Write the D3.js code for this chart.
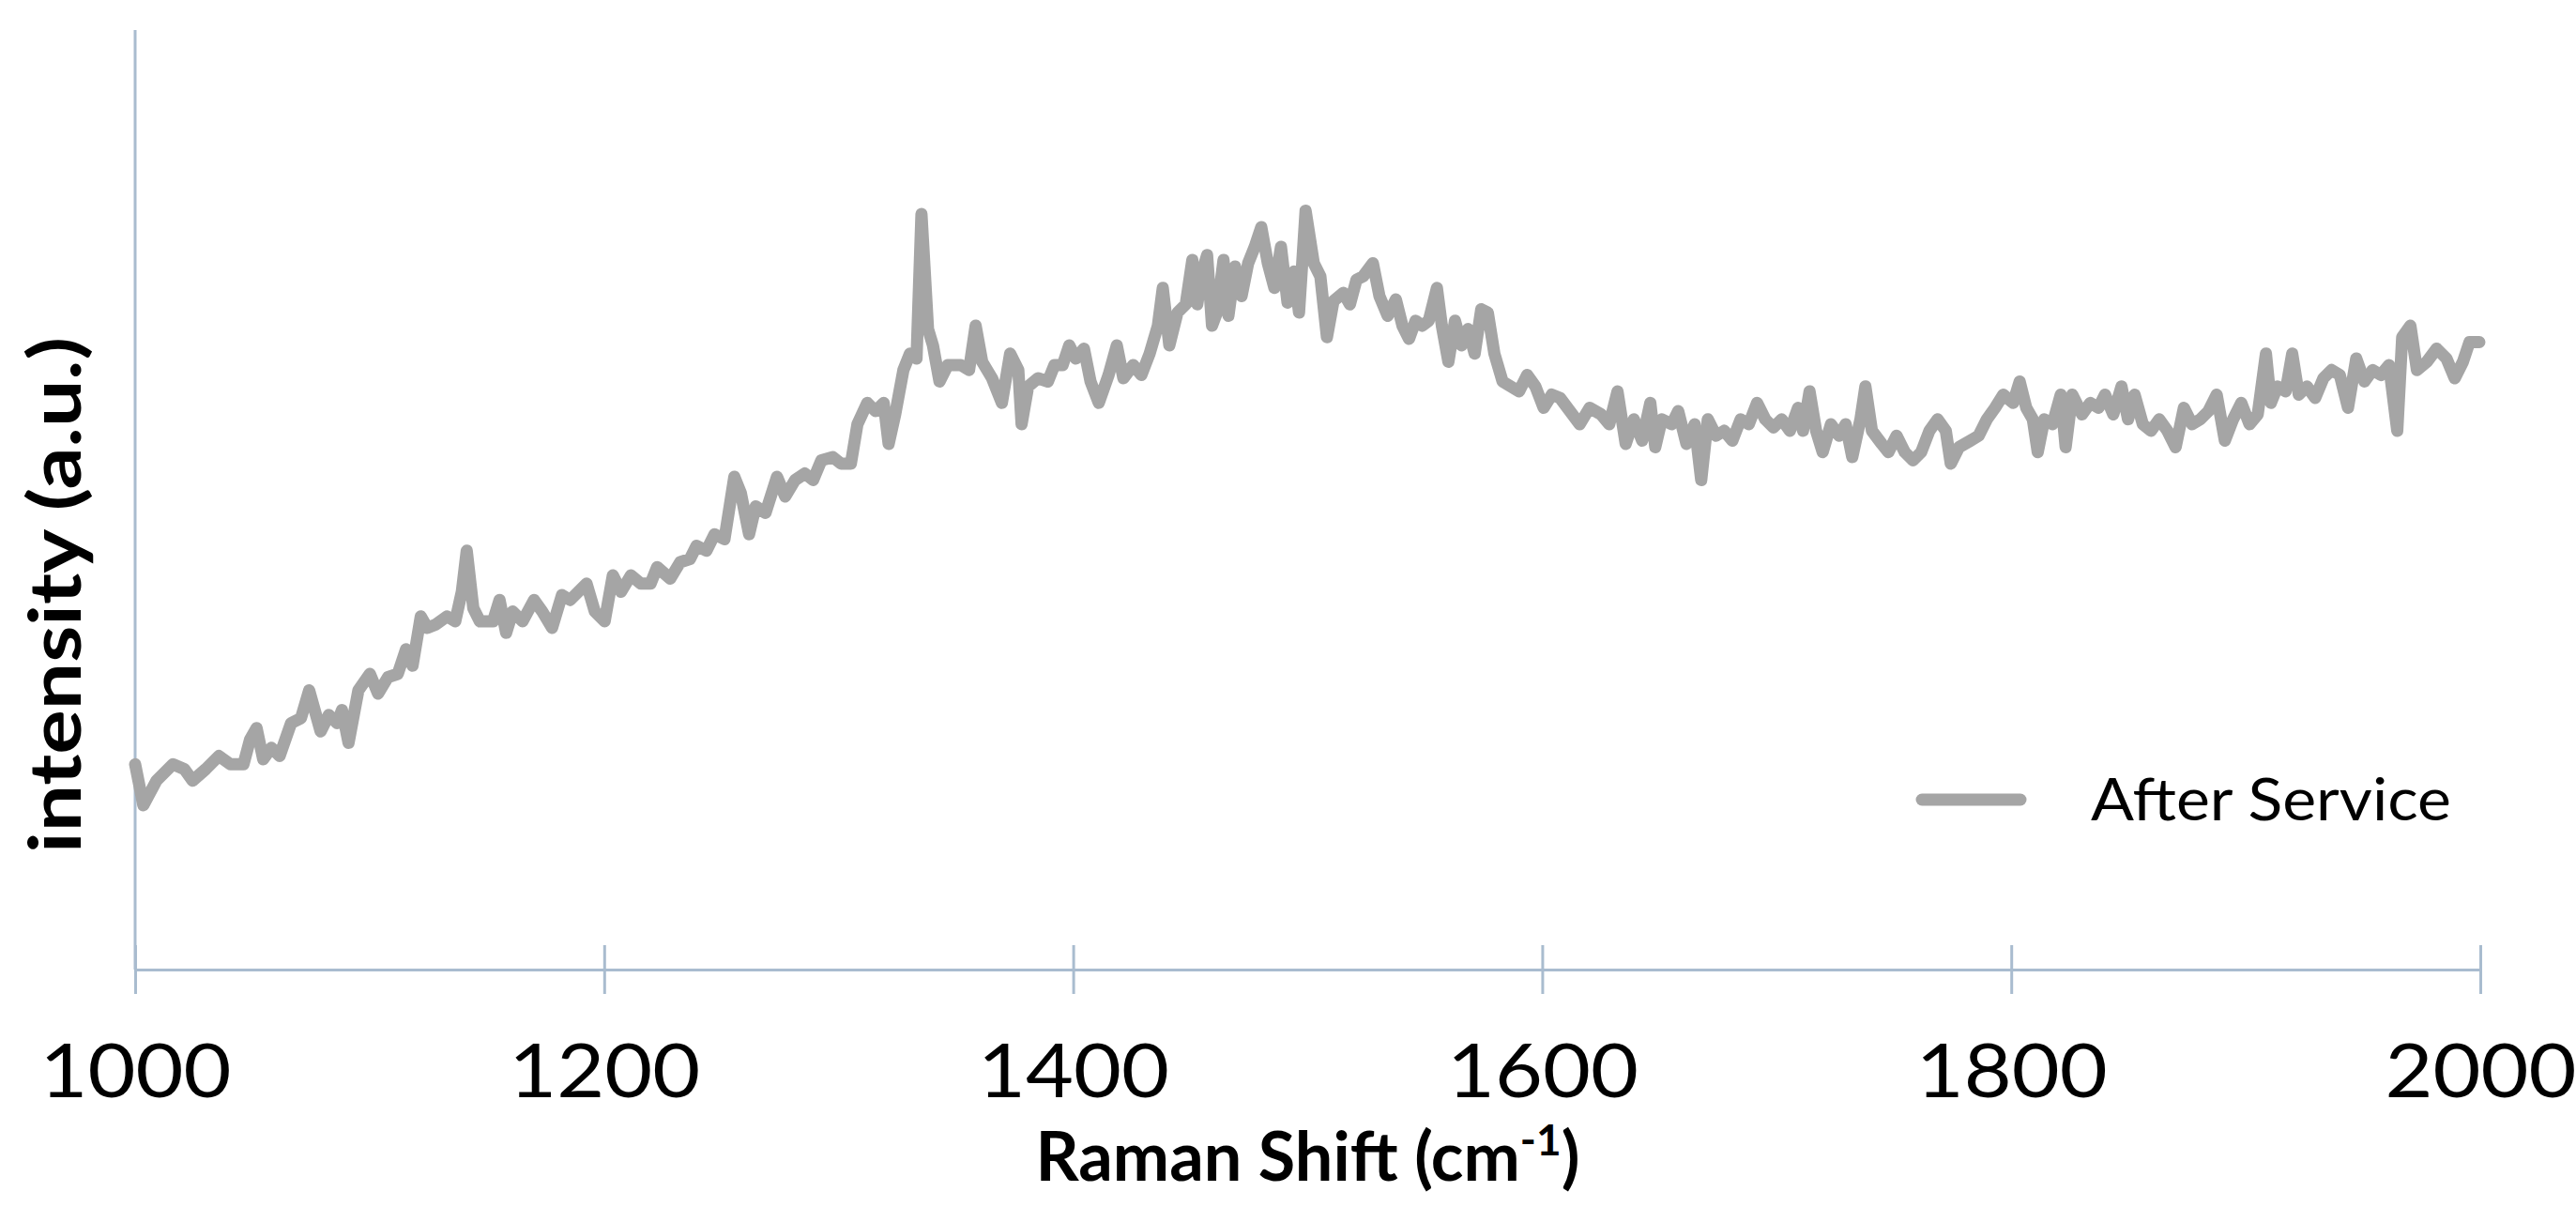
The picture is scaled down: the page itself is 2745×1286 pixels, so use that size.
<!DOCTYPE html>
<html>
<head>
<meta charset="utf-8">
<script src="https://cdn.jsdelivr.net/npm/d3@7"></script>
<style>
  body { margin: 0; background: #fff; }
  text { font-family: Lato, "Open Sans", sans-serif; }
</style>
</head>
<body>
<svg id="chart" width="2745" height="1286"></svg>
<script>
// Raman shift (cm-1) and intensity (a.u.)
let shift = [1000,1003.5,1009.1,1016.1,1021,1024.5,1030.1,1035.7,1040.6,1046.2,1049,1051.8,1054.6,1058.1,1061.6,1066.5,1070.7,1074.2,1079.1,1082.6,1086.1,1088.2,1091,1095.2,1100.1,1103.6,1107.8,1112,1115.5,1118.3,1121.8,1124.6,1128.1,1133,1136.5,1139.3,1141.4,1144.2,1147,1152.6,1155.4,1158.2,1161,1165.2,1170.1,1173.6,1177.8,1182,1185.5,1189,1192.5,1196,1200.2,1203.7,1207.2,1211.4,1215.6,1219.8,1222.6,1228.2,1232.4,1236.6,1239.4,1243.6,1247.1,1251.3,1255.5,1258.3,1261.8,1264.6,1268.8,1273.7,1277.2,1281.4,1285.6,1289.1,1292.6,1297.5,1301,1305.2,1308,1312.2,1315.7,1319.2,1321.3,1324.1,1327.6,1330.4,1333.2,1335.3,1338.1,1340.2,1343,1346.5,1352.1,1355.6,1358.4,1361.2,1365.4,1369.6,1373.1,1376.6,1378,1380.8,1385,1389.2,1392,1395.5,1398.3,1401.1,1404.6,1407.4,1410.9,1415.1,1418.6,1421.4,1425.6,1429.1,1432.6,1436.1,1438.2,1441,1444.5,1448,1450.8,1452.9,1455,1457.1,1459.2,1461.3,1464.1,1466.2,1469,1471.8,1474.6,1477.4,1480.2,1483,1485.8,1488.6,1491.4,1494.2,1496.3,1499.1,1502.6,1505.4,1508.2,1511,1515.2,1518,1520.8,1523.6,1527.8,1530.6,1534.1,1537.6,1540.4,1543.2,1546,1548.8,1551.6,1555.1,1557.2,1560,1562.8,1565.6,1568.4,1571.2,1574,1576.8,1579.6,1583.1,1586.6,1590.1,1593.6,1597.1,1600.6,1604.1,1607.6,1611.8,1616,1620.2,1625.1,1628.6,1632.1,1635.6,1639.1,1642.6,1646.1,1648.2,1651,1655.2,1658,1661.5,1665,1667.8,1670.6,1674.1,1677.6,1681.1,1684.6,1688.1,1691.6,1695.1,1698.6,1702.1,1705.6,1709.1,1711.2,1714,1716.8,1719.6,1723.1,1726.6,1729.4,1732.2,1735.7,1737.8,1740.6,1744.8,1747.6,1751.1,1754.6,1758.1,1761.6,1765.1,1768.6,1772.1,1774.2,1777.7,1782.6,1786.1,1789.6,1793.1,1796.6,1800.8,1803.6,1806.4,1809.2,1811.3,1814.1,1817.6,1821.1,1823.2,1826,1830.2,1833.7,1837.2,1840,1843.5,1847,1849.8,1852.6,1856.1,1859.6,1863.1,1866.6,1870.1,1873.6,1877.1,1880.6,1884.1,1887.6,1891.1,1894.6,1898.1,1901.6,1905.1,1908.6,1910.7,1913.5,1917,1919.8,1922.6,1926.1,1929.6,1933.1,1936.6,1940.1,1943.6,1947.1,1950.6,1954.1,1957.6,1961.1,1964.6,1966.7,1970.2,1973,1977.2,1981.4,1985.6,1989.1,1992.6,1995.4,1999.6];
let intensity = [125,100,115,125,122,115,122,130,125,125,140,147,128,135,130,150,153,170,145,155,150,158,138,170,180,168,178,180,195,185,215,208,210,215,212,230,255,220,212,212,225,205,218,212,225,218,208,228,225,230,235,218,212,240,230,240,235,235,245,238,248,250,258,255,265,262,300,290,265,282,278,300,288,298,302,298,310,312,308,308,332,345,340,345,320,338,365,375,372,460,390,380,358,368,368,365,392,370,360,345,375,365,332,355,360,358,368,368,380,372,378,358,345,362,380,360,368,362,375,392,415,380,400,405,432,405,425,435,392,400,432,398,428,410,430,440,452,430,415,440,406,425,400,462,430,422,385,407,412,405,420,422,430,410,398,408,392,384,395,392,395,415,392,370,395,380,390,375,402,400,375,358,355,352,362,355,342,350,348,340,332,342,338,332,352,320,335,322,345,318,335,332,340,320,332,298,335,325,328,322,335,332,345,335,330,335,328,342,328,352,328,315,332,325,332,312,335,355,328,320,315,325,315,310,315,328,335,328,308,318,322,325,335,342,350,345,358,342,335,315,335,332,350,318,350,338,345,342,350,338,355,335,350,332,328,335,328,318,342,332,335,340,350,322,335,345,332,338,375,345,355,352,375,350,355,348,360,365,362,342,372,358,365,362,368,328,385,392,365,370,378,372,360,370,382,382];

let xTicks = [1000, 1200, 1400, 1600, 1800, 2000];
let seriesName = 'After Service';

let margin = {top: 32, right: 102, bottom: 253, left: 144},
  width = 2745 - margin.left - margin.right,
  height = 1286 - margin.top - margin.bottom;

let svg = d3.select('#chart')
  .append('g')
  .attr('transform', 'translate(' + margin.left + ',' + margin.top + ')');

let x = d3.scaleLinear().domain([1000, 2000]).range([0, width]);
let y = d3.scaleLinear().domain([0, 572]).range([height, 0]);

let axisColor = '#a9bccf';

// y axis: just a line
svg.append('line')
  .attr('x1', 0).attr('x2', 0)
  .attr('y1', 0).attr('y2', height)
  .attr('stroke', axisColor).attr('stroke-width', 3);

// x axis with ticks crossing the line
let xAxis = svg.append('g')
  .attr('transform', 'translate(0,' + height + ')')
  .call(d3.axisBottom(x).tickValues(xTicks).tickFormat(d3.format('d')).tickSize(26).tickSizeOuter(0));
xAxis.select('.domain').attr('stroke', axisColor).attr('stroke-width', 3);
xAxis.selectAll('.tick line')
  .attr('stroke', axisColor).attr('stroke-width', 3)
  .attr('y1', -26);
xAxis.selectAll('.tick text')
  .attr('y', 0).attr('dy', 0)
  .attr('transform', 'translate(0,136)')
  .attr('font-size', 80)
  .attr('textLength', 204)
  .attr('lengthAdjust', 'spacingAndGlyphs')
  .attr('font-family', 'Lato, sans-serif')
  .attr('fill', '#000');

// series line
let points = shift.map((s, i) => [s, intensity[i]]);
svg.append('path')
  .datum(points)
  .attr('fill', 'none')
  .attr('stroke', '#a5a5a5')
  .attr('stroke-width', 13)
  .attr('stroke-linejoin', 'round')
  .attr('stroke-linecap', 'round')
  .attr('d', d3.line().x(d => x(d[0])).y(d => y(d[1])));

// legend
let lg = svg.append('g').attr('transform', 'translate(' + (2048 - margin.left) + ',' + (852 - margin.top) + ')');
lg.append('line')
  .attr('x1', 0).attr('x2', 105)
  .attr('stroke', '#a5a5a5').attr('stroke-width', 13).attr('stroke-linecap', 'round');
lg.append('text')
  .attr('x', 180).attr('y', 22)
  .attr('font-size', 62)
  .attr('textLength', 384)
  .attr('lengthAdjust', 'spacingAndGlyphs')
  .attr('fill', '#000')
  .text(seriesName);

// axis titles
let xTitle = svg.append('text')
  .attr('x', width / 2).attr('y', 1258 - margin.top)
  .attr('text-anchor', 'middle')
  .attr('font-size', 72).attr('font-weight', 'bold')
  .attr('fill', '#000');
xTitle.append('tspan').text('Raman Shift (cm');
xTitle.append('tspan').attr('baseline-shift', 'super').attr('font-size', 46).text('-1');
xTitle.append('tspan').text(')');

svg.append('text')
  .attr('transform', 'translate(' + (86 - margin.left) + ',' + (634 - margin.top) + ') rotate(-90)')
  .attr('text-anchor', 'middle')
  .attr('font-size', 76).attr('font-weight', 'bold')
  .attr('textLength', 550)
  .attr('lengthAdjust', 'spacingAndGlyphs')
  .attr('fill', '#000')
  .text('intensity (a.u.)');
</script>
</body>
</html>
